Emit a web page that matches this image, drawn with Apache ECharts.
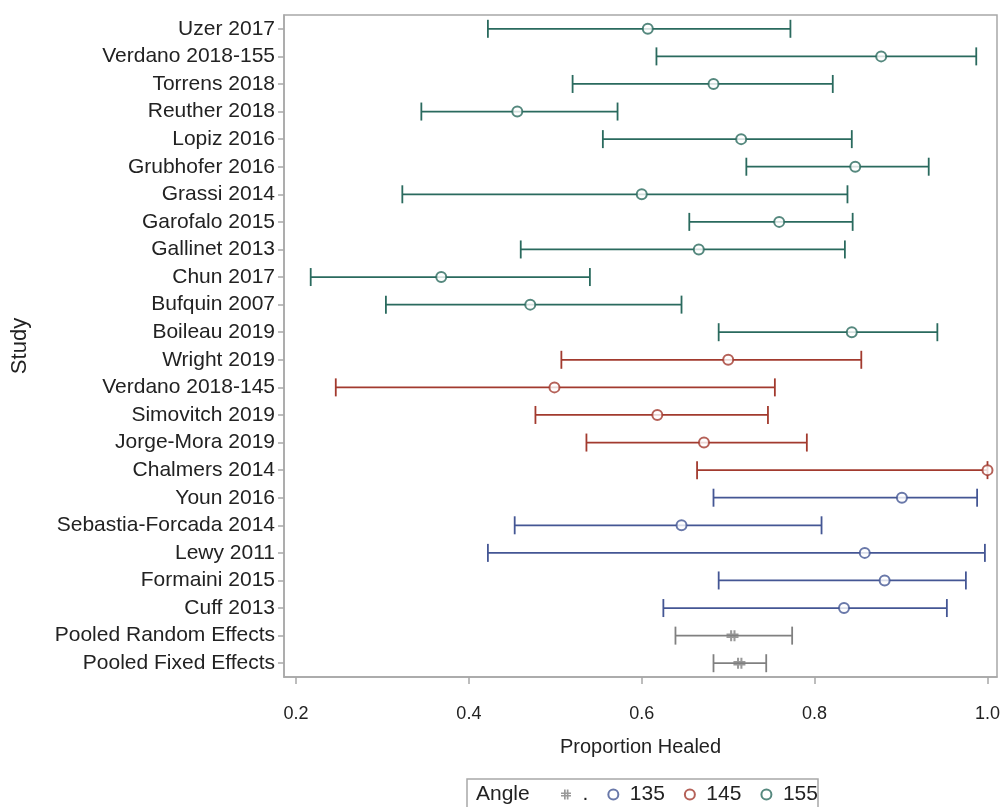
<!DOCTYPE html>
<html lang="en">
<head>
    <meta charset="UTF-8">
    <title>Proportion Healed</title>
    <script src="https://cdn.jsdelivr.net/npm/echarts@6/dist/echarts.min.js"></script>
    <style>
    html, body { margin: 0; padding: 0; background: #fff; }
    #main { width: 1005px; height: 807px; }
    </style>
</head>
<body>
<div id="main"></div>
<script>
// data (top row first)
var studies = ['Uzer 2017', 'Verdano 2018-155', 'Torrens 2018', 'Reuther 2018', 'Lopiz 2016',
    'Grubhofer 2016', 'Grassi 2014', 'Garofalo 2015', 'Gallinet 2013', 'Chun 2017', 'Bufquin 2007',
    'Boileau 2019', 'Wright 2019', 'Verdano 2018-145', 'Simovitch 2019', 'Jorge-Mora 2019',
    'Chalmers 2014', 'Youn 2016', 'Sebastia-Forcada 2014', 'Lewy 2011', 'Formaini 2015',
    'Cuff 2013', 'Pooled Random Effects', 'Pooled Fixed Effects'];
var estimate = [0.607, 0.877, 0.683, 0.456, 0.715, 0.847, 0.600, 0.759, 0.666, 0.368, 0.471,
    0.843, 0.700, 0.499, 0.618, 0.672, 1.000, 0.901, 0.646, 0.858, 0.881, 0.834, 0.705, 0.713];
var lower = [0.422, 0.617, 0.520, 0.345, 0.555, 0.721, 0.323, 0.655, 0.460, 0.217, 0.304,
    0.689, 0.507, 0.246, 0.477, 0.536, 0.664, 0.683, 0.453, 0.422, 0.689, 0.625, 0.639, 0.683];
var upper = [0.772, 0.987, 0.821, 0.572, 0.843, 0.932, 0.838, 0.844, 0.835, 0.540, 0.646,
    0.942, 0.854, 0.754, 0.746, 0.791, 1.000, 0.988, 0.808, 0.997, 0.975, 0.953, 0.774, 0.744];
var angle = ['155', '155', '155', '155', '155', '155', '155', '155', '155', '155', '155', '155',
    '145', '145', '145', '145', '145', '135', '135', '135', '135', '135', '.', '.'];
var groups = ['.', '135', '145', '155'];
var xTicks = [0.2, 0.4, 0.6, 0.8, 1.0];

var colors = { '.': '#808080', '135': '#445694', '145': '#A23A2E', '155': '#2A6A5E' };
var hashPath = 'path://M3,0h1.7v10h-1.7z M5.8,0h1.7v10h-1.7z M0,3h10v1.5h-10z M0,5.6h10v1.5h-10z';
var font = 'Liberation Sans, Arial, sans-serif';

var myChart = echarts.init(document.getElementById('main'));

function errorBar(params, api) {
    var p1 = api.coord([api.value(0), api.value(2)]);
    var p2 = api.coord([api.value(1), api.value(2)]);
    var h = 9;
    var st = { stroke: api.visual('color'), lineWidth: 1.8 };
    return {
        type: 'group',
        children: [
            { type: 'line', shape: { x1: p1[0], y1: p1[1], x2: p2[0], y2: p2[1] }, style: st },
            { type: 'line', shape: { x1: p1[0], y1: p1[1] - h, x2: p1[0], y2: p1[1] + h }, style: st },
            { type: 'line', shape: { x1: p2[0], y1: p2[1] - h, x2: p2[0], y2: p2[1] + h }, style: st }
        ]
    };
}

var series = [];
groups.forEach(function (g) {
    var bars = [], pts = [];
    for (var i = 0; i < studies.length; i++) {
        if (angle[i] !== g) continue;
        bars.push([lower[i], upper[i], studies[i]]);
        pts.push([estimate[i], studies[i]]);
    }
    series.push({
        name: g + '_bar',
        type: 'custom',
        renderItem: errorBar,
        itemStyle: { color: colors[g] },
        encode: { x: [0, 1], y: 2 },
        data: bars,
        z: 2
    });
    series.push({
        name: g,
        type: 'scatter',
        symbol: g === '.' ? hashPath : 'circle',
        symbolSize: g === '.' ? [12, 11] : 10,
        itemStyle: g === '.' ? { color: colors[g] } :
            { color: '#fff', borderColor: colors[g], borderWidth: 2 },
        data: pts,
        z: 3
    });
});

var option = {
    animation: false,
    grid: { left: 284, right: 8, top: 15, bottom: 130, show: true, borderColor: '#a8a8a8', borderWidth: 1.5 },
    xAxis: {
        type: 'value',
        min: 0.1861,
        max: 1.011,
        name: 'Proportion Healed',
        nameLocation: 'middle',
        nameGap: 60,
        nameTextStyle: { fontFamily: font, fontSize: 20, color: '#222' },
        splitLine: { show: false },
        axisLine: { show: true, lineStyle: { color: '#a8a8a8', width: 1.5 } },
        axisTick: { show: true, length: 7, customValues: xTicks, lineStyle: { color: '#a8a8a8', width: 1.5 } },
        axisLabel: {
            customValues: xTicks,
            margin: 28,
            fontFamily: font, fontSize: 18, color: '#222',
            formatter: function (v) { return v.toFixed(1); }
        }
    },
    yAxis: {
        type: 'category',
        data: studies,
        inverse: true,
        name: 'Study',
        nameLocation: 'middle',
        nameGap: 253,
        nameRotate: 90,
        nameTextStyle: { fontFamily: font, fontSize: 22, color: '#222' },
        axisLine: { show: true, lineStyle: { color: '#a8a8a8', width: 1.5 } },
        axisTick: { show: true, alignWithLabel: true, interval: 0, length: 6, lineStyle: { color: '#a8a8a8', width: 1.5 } },
        axisLabel: { interval: 0, margin: 9, fontFamily: font, fontSize: 21, color: '#222' }
    },
    legend: {
        data: [
            { name: '.', icon: hashPath, itemStyle: { color: colors['.'] } },
            { name: '135', icon: 'circle', itemStyle: { color: '#fff', borderColor: colors['135'], borderWidth: 2 } },
            { name: '145', icon: 'circle', itemStyle: { color: '#fff', borderColor: colors['145'], borderWidth: 2 } },
            { name: '155', icon: 'circle', itemStyle: { color: '#fff', borderColor: colors['155'], borderWidth: 2 } }
        ],
        left: 561,
        top: 784,
        itemWidth: 11,
        itemHeight: 10,
        itemGap: 19,
        padding: 0,
        textStyle: { fontFamily: font, fontSize: 21, color: '#222', padding: [0, 0, 0, 6] }
    },
    graphic: [
        { type: 'rect', shape: { x: 467, y: 779, width: 351, height: 40 },
          style: { fill: 'none', stroke: '#a8a8a8', lineWidth: 1.5 } },
        { type: 'text', x: 476, y: 784,
          style: { text: 'Angle', font: '21px ' + font, fill: '#222' } }
    ],
    series: series
};
myChart.setOption(option);
</script>
</body>
</html>
